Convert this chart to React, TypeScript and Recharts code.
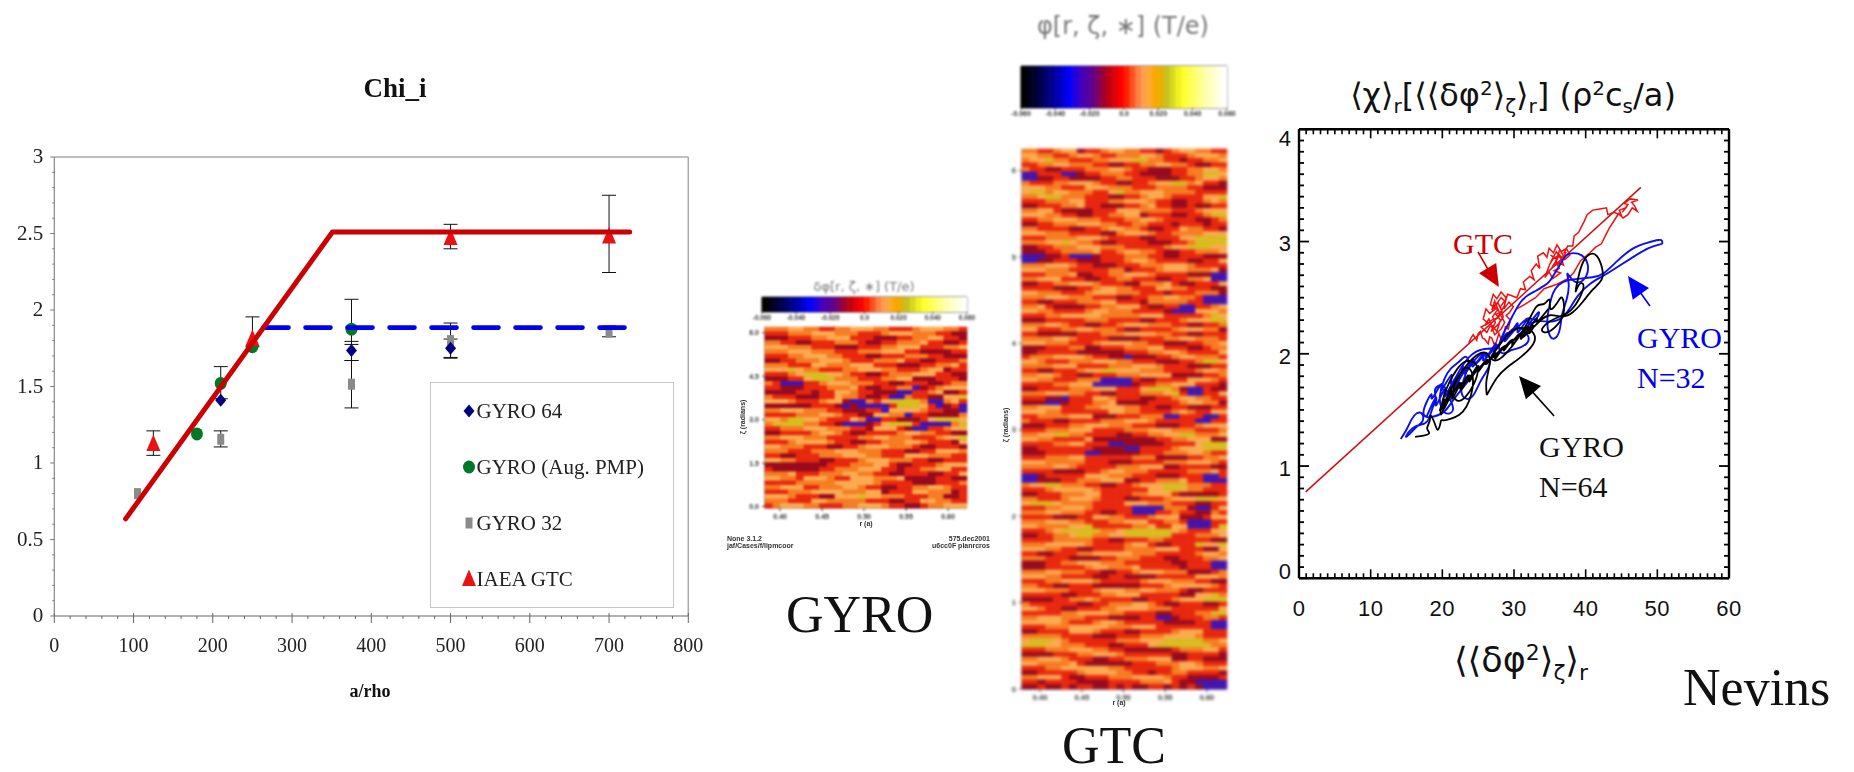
import React from 'react';
import { ComposedChart, ScatterChart, Scatter, Line, XAxis, YAxis, ErrorBar, ReferenceLine, Legend } from 'recharts';

// ---------- left panel: Chi_i ----------
const gyro64 = [
  { x: 210, y: 1.41 },
  { x: 375, y: 1.735, err: [0.065, 0.06] },
  { x: 500, y: 1.75, err: [0.065, 0.06] },
];
const gyroPmp = [
  { x: 180, y: 1.19 },
  { x: 210, y: 1.52, err: [0.1, 0.11] },
  { x: 250, y: 1.76 },
  { x: 375, y: 1.875, err: [0.1, 0.195] },
];
const gyro32 = [
  { x: 105, y: 0.8 },
  { x: 210, y: 1.155, err: [0.05, 0.055] },
  { x: 375, y: 1.515, err: [0.155, 0.155] },
  { x: 500, y: 1.8, err: [0.11, 0.115] },
  { x: 700, y: 1.855, err: [0.03, 0.04] },
];
const iaeaGtc = [
  { x: 125, y: 1.125, err: [0.075, 0.085] },
  { x: 250, y: 1.81, err: [0.05, 0.145] },
  { x: 500, y: 2.47, err: [0.07, 0.09] },
  { x: 700, y: 2.48, err: [0.235, 0.27] },
];
const redFit = [{ x: 90, y: 0.635 }, { x: 351, y: 2.51 }, { x: 726, y: 2.51 }];
const blueFit = [{ x: 264, y: 1.885 }, { x: 722, y: 1.885 }];
const legendOrder = ['GYRO 64', 'GYRO (Aug. PMP)', 'GYRO 32', 'IAEA GTC'];
const leftTicksX = [0, 20, 40, 60, 80, 100, 120, 140, 160, 180, 200, 220, 240, 260, 280, 300, 320, 340, 360, 380, 400, 420, 440, 460, 480, 500, 520, 540, 560, 580, 600, 620, 640, 660, 680, 700, 720, 740, 760, 780, 800];
const leftTicksY = Array.from({ length: 31 }, (_, i) => i / 10);

// ---------- right panel: transport vs intensity ----------
const redLine = [[0.93, 0.77], [47.7, 3.483]];
const gtcTrace = [
  [23.7,2.10],[24.0,2.14],[24.3,2.17],[24.8,2.12],[25.0,2.18],[25.3,2.20],[25.6,2.14],[25.9,2.13],[26.4,2.09],[26.6,2.15],[26.9,2.14],[27.2,2.09],[27.5,2.10],[27.9,2.18],[28.2,2.13],[28.5,2.15],[28.8,2.24],[29.2,2.22],[29.5,2.30],[28.9,2.34],[29.4,2.37],[29.9,2.42],[29.3,2.46],[28.6,2.40],[28.9,2.50],[28.2,2.55],[27.6,2.49],[27.1,2.53],[26.7,2.44],[27.4,2.40],[26.6,2.36],[26.1,2.40],[25.7,2.31],[26.4,2.27],[25.4,2.24],[26.2,2.19],[26.6,2.24],[27.0,2.25],[27.6,2.20],[28.1,2.30],[27.5,2.35],[28.3,2.38],[27.8,2.45],[27.2,2.43],[27.7,2.39],[27.0,2.33],[27.4,2.28],[26.8,2.20],[27.9,2.27],[28.5,2.33],[28.1,2.42],[28.7,2.47],[28.2,2.50],[27.5,2.44],[26.9,2.39],[27.3,2.47],[28.0,2.36],[28.7,2.28],[28.2,2.22],[27.3,2.17],[26.5,2.31],[25.9,2.25],[26.9,2.30],[27.7,2.32],[28.6,2.42],[29.1,2.53],[29.6,2.52],[30.4,2.50],[30.9,2.58],[31.6,2.57],[31.3,2.64],[32.2,2.69],[32.8,2.66],[32.4,2.74],[33.1,2.80],[33.6,2.76],[33.3,2.87],[34.1,2.90],[34.6,2.86],[34.9,2.94],[35.5,2.90],[36.0,2.97],[36.6,2.91],[37.3,2.94],[37.8,2.88],[37.1,2.84],[36.5,2.87],[36.9,2.79],[35.9,2.82],[36.3,2.76],[35.6,2.74],[36.5,2.72],[35.4,2.67],[34.9,2.73],[34.3,2.68],[35.0,2.80],[35.6,2.86],[35.1,2.88],[36.0,2.84],[35.4,2.78],[36.2,2.80],[36.9,2.87],[36.4,2.93],[35.7,2.80],[36.3,2.88],[35.3,2.84],[35.9,2.91],[36.7,2.83],[37.2,2.90],[37.0,2.90],[37.5,2.96],[38.2,2.96],[38.4,3.05],[39.0,3.08],[39.4,3.13],[39.8,3.18],[40.2,3.24],[41.0,3.28],[42.0,3.29],[42.9,3.30],[43.1,3.24],[44.0,3.26],[45.0,3.23],[44.7,3.28],[45.6,3.30],[45.1,3.26],[45.9,3.33],[45.4,3.34],[46.2,3.38],[47.3,3.37],[46.4,3.35],[46.8,3.32],[47.2,3.27],[46.5,3.30],[45.9,3.24],[45.2,3.21],[44.6,3.25],[44.0,3.19],[43.3,3.12],[42.9,3.07],[42.2,2.98],[41.4,2.95],[40.6,2.90],[39.3,2.83],[38.3,2.72],[37.5,2.67],[36.0,2.62],[34.2,2.58],[33.0,2.50],[31.5,2.44],[30.4,2.40],
];
const blueTrace = [
  [14.2,1.24],[14.2,1.24],[15.0,1.32],[15.7,1.42],[16.4,1.48],[17.3,1.48],[17.4,1.39],[16.5,1.36],[15.4,1.28],[14.6,1.24],[15.8,1.35],[17.0,1.37],[18.0,1.38],[18.6,1.52],[19.2,1.60],[18.8,1.68],[19.4,1.72],[20.3,1.73],[21.0,1.60],[21.8,1.50],[20.8,1.45],[19.8,1.50],[19.5,1.62],[20.2,1.78],[21.2,1.88],[22.3,1.92],[23.3,2.00],[23.9,1.92],[23.0,1.78],[22.4,1.65],[23.4,1.58],[24.4,1.62],[25.2,1.75],[26.2,1.84],[26.9,1.94],[26.3,2.02],[25.2,2.00],[24.2,1.92],[23.0,1.85],[22.0,1.72],[21.2,1.62],[20.6,1.55],[21.4,1.74],[22.6,1.88],[24.0,2.00],[25.6,2.05],[27.2,2.04],[28.2,2.10],[29.4,2.20],[30.4,2.26],[31.6,2.20],[32.4,2.12],[31.0,2.05],[29.6,2.04],[28.4,1.98],[27.6,2.06],[28.8,2.22],[30.0,2.36],[30.8,2.46],[32.0,2.53],[33.1,2.56],[34.0,2.60],[34.9,2.63],[35.7,2.72],[36.5,2.80],[37.3,2.89],[38.2,2.90],[39.5,2.89],[40.5,2.80],[40.2,2.68],[39.0,2.62],[38.0,2.66],[37.2,2.75],[37.8,2.62],[37.4,2.48],[36.6,2.35],[36.5,2.22],[35.9,2.13],[35.0,2.13],[34.5,2.28],[34.9,2.42],[35.4,2.55],[36.2,2.62],[37.4,2.66],[39.2,2.67],[41.0,2.68],[42.4,2.70],[44.4,2.83],[46.6,2.95],[48.6,2.99],[50.4,3.02],[50.7,3.01],[50.7,2.98],[50.7,2.98],[48.8,2.95],[46.8,2.87],[44.6,2.78],[42.4,2.69],[40.6,2.63],[38.8,2.52],[37.8,2.40],[36.6,2.30],[34.8,2.28],[33.4,2.30],[31.8,2.26],[30.2,2.12],[28.6,2.07],[26.8,1.95],[25.0,1.88],[23.2,1.72],[21.6,1.60],[20.4,1.48],[19.2,1.44],
  [16.5,1.42],[19,1.72],[18,1.52],[20.5,1.82],[19.2,1.58],[22,1.92],[20.5,1.62],[23.6,2.0],[22,1.72],[25,2.04],[23.5,1.8],[26.5,2.08],[25,1.86],[28,2.12],[26.5,1.94],[29.5,2.22],[28,2.04],[31,2.3],[30,2.12],[32.5,2.38],[31.5,2.2],[34,2.44],[33,2.26],[32,2.36],[30,2.18],[31,2.34],[28.6,2.08],[29.6,2.26],[27,1.98],[28,2.16],[25.6,1.9],[26.6,2.06],[24,1.84],[25,2.02],[22.6,1.74],[23.6,1.96],[21,1.6],[22.2,1.86],[19.8,1.52],[20.8,1.78],[18.6,1.44],[19.6,1.7],[17.8,1.44],
];
const blackTrace = [
  [16.2,1.26],[16.2,1.26],[17.4,1.27],[18.5,1.29],[17.6,1.33],[18.4,1.40],[18.2,1.48],[19.0,1.38],[19.3,1.30],[19.7,1.36],[19.8,1.42],[20.1,1.40],[21.2,1.42],[22.4,1.45],[23.4,1.52],[24.1,1.64],[24.4,1.76],[24.0,1.88],[23.0,1.88],[22.0,1.78],[20.8,1.64],[20.2,1.50],[19.6,1.42],[20.0,1.60],[21.0,1.76],[22.0,1.86],[23.0,1.94],[24.4,1.94],[25.2,1.86],[24.4,1.72],[23.2,1.60],[22.0,1.56],[21.2,1.66],[22.2,1.80],[23.6,1.92],[25.0,2.01],[26.4,2.02],[26.8,1.92],[26.0,1.76],[26.2,1.63],[26.2,1.63],[27.6,1.80],[29.0,1.88],[30.8,1.96],[32.4,2.05],[33.2,2.14],[32.4,2.22],[30.8,2.24],[29.4,2.20],[28.0,2.08],[26.4,1.96],[27.6,1.92],[29.2,2.02],[30.6,2.14],[32.0,2.28],[33.2,2.46],[34.2,2.42],[35.2,2.53],[34.8,2.36],[36.0,2.44],[36.8,2.55],[37.2,2.35],[36.0,2.25],[34.8,2.18],[33.4,2.20],[35.0,2.30],[36.8,2.34],[38.0,2.38],[39.2,2.49],[40.0,2.63],[39.0,2.64],[38.4,2.50],[39.0,2.70],[39.6,2.83],[40.6,2.90],[41.6,2.89],[42.4,2.76],[42.5,2.66],[41.0,2.58],[39.6,2.46],[38.2,2.36],[36.8,2.32],[35.0,2.36],[33.6,2.30],[32.0,2.18],[30.2,2.10],
  [33.6,2.32],[31.6,2.12],[32.8,2.3],[30.4,2.06],[31.6,2.26],[29.2,2.0],[30.4,2.2],[28,1.96],[29.2,2.14],[26.8,1.88],[28,2.08],[25.6,1.84],[26.8,2.02],[24.4,1.76],[25.6,1.98],[23.2,1.66],[24.4,1.9],[22,1.58],[23.2,1.84],[20.8,1.5],[22,1.76],[19.6,1.4],[20.8,1.68],[19.2,1.44],[20.4,1.56],[21.6,1.78],[20.8,1.54],[22.8,1.82],[22,1.62],[24,1.88],[23.2,1.7],[25.2,1.94],[24.4,1.8],[26.4,1.98],[25.6,1.86],[27.6,2.04],[26.8,1.92],[28.8,2.1],[28,2.0],[30,2.16],[29.2,2.06],[31.2,2.22],[30.4,2.12],[32.4,2.28],[31.6,2.18],[33.6,2.36],[32.8,2.24],[34.8,2.4],
];
const annotationShafts = [
  { color: '#cc0000', from: [24.98, 2.907], to: [27.2, 2.66] },
  { color: '#0000ff', from: [48.97, 2.426], to: [46.8, 2.62] },
  { color: '#000000', from: [35.6, 1.446], to: [31.6, 1.73] },
];
const arrowTips = [
  { x: 27.9, y: 2.595, angle: 59, color: '#cc0000' },
  { x: 45.9, y: 2.693, angle: 234, color: '#0000ff' },
  { x: 30.7, y: 1.802, angle: 229, color: '#000000' },
];
const rightTicksX = Array.from({ length: 61 }, (_, i) => i);
const rightTicksY = Array.from({ length: 41 }, (_, i) => i / 10);

// ---------- colour maps: l light, o orange, r red, d dark red, p purple, y olive yellow ----------
const cellColors: Record<string, string> = { l: '#fbaa50', o: '#f67c22', r: '#e8280e', d: '#980a1e', p: '#4214b0', y: '#d8bc20' };
const colorbarColors = ['#000000','#000018','#000030','#000050','#000070','#000090','#0000b0','#0000d8','#0000ff','#2000e0','#4000c0','#5000a8','#600090','#800060','#a00030','#c00010','#e00008','#ff0000','#ff2000','#ff5020','#ff8040','#ffa050','#ffa830','#f8a800','#e8b000','#c8c020','#d8d820','#f0f020','#ffff30','#ffff50','#ffff70','#ffff90','#ffffb0','#ffffc8','#ffffe0','#ffffff'];
const colorbarTicks = [-0.06, -0.04, -0.02, 0, 0.02, 0.04, 0.06];
const r_aTicks = [0.4, 0.45, 0.5, 0.55, 0.6];
const gtcZetaTicks = [0, 1, 2, 3, 4, 5, 6];
const gyroZetaTicks = [0, 1.5, 3, 4.5, 6];

const gyroRows = [
  'ooolloorroollloorrrollloor','rrrooolllooorrrolllooorrdd','dddrrroolllrrrdddrroollrrd','oorrddrrrooorddrrooolrrddr',
  'lllooorrrdddrrroolllrrrool','ooolllooorrrooolllrrddddrr','rrroollloorrrddrrrooorrddd','ddrrooolllorrrooolrrddrrro',
  'ooorrrllooolllrrrdddrroolr','lllyloorrroollloorrrolldrr','rrrolyyyllorrddrooolllrrdd','dddrrlyyyooorrroolldddrrrd',
  'orppprrolllooorrddrrrddroo','rrdddrrrooolrddrroopdrolll','ddddrrdrrllorrdddpprrolddr','orrrdddrrloorddrpporrddlly',
  'lllorrrolldpporlyyyyoppolr','ddddddrrrdpdppppryyylrpdrp','oolllooorrdddrrpllllorrddp','rrrrooollorrddllooprrddddo',
  'lloyyllorrrlopprrdddrlyyyl','oyyyyoorrdpppdrlyyyrppppoy','rrooolllooorrdlllrdpprrolly','ddrrrrollorddrrrrolloorrdd',
  'oolllooorrrroollooorrrolly','rrrollllorrddrrooollorrrdl','llooorrrddrrolllooorddrrrd','ooorrrooolllooorrrddrrlllo',
  'rrddrrrooollloorrrlllooorr','lloorrrddrrrolllooorrddrrr','ddddddddrrrooollrddrrrolll','rddddddrrooolllrrdrroollrr',
  'ooolrrrooolloorrddrrrddrrl','lloorlllorrlllooolddddrrdd','rrrrooooolllllorrrrdddrrro','oolllrrooollorrddrroollorr',
  'rrrooollllooolldrrrllooodr','lllorrrddlllyllooorrrooddr','ooorrrllooooorrrddrrlloorr','rollloorrroolllorrddroolll',
];

const gtcRows = [
  'oorrolldrrolloorrdrolloorr','lloorrollorrooollorrrolllo','ollyoorrroolllyyoorrdrrool','rroollooorrddrroolloorddrr',
  'orrddrrrooollorrdddrroollo','pprrrppdrrooorrddddrrooyyl','ppddrrddddrroorrrdddrrollo','orrroolllorrddrrollyyolrrd',
  'llloorrrlllooorrroooorrddd','lyyollooorrlyoollloooorrrr','oolyyooorrrddrrollorrrrlly','rrrooollrrroolllorrddrrolo',
  'ddrrroolrrdddrrolrrddrddrr','oollrddddrrrllloooorrrolll','llloorrddrroolldrrrddrroyy','rroolllooorrroollorrrrddro',
  'ddrrooollloorroorrrdrrrdrr','oorrrrddrrolloorddrrloorrd','lllooorrrrddolllorroooolll','rrroooolllorrrrddrrrllyyyy',
  'ooollyloorddrrrrdddrroyyyy','ddrrooolllooorrrrrollyyyll','dddrroooolrrolloorddrroool','pppddrpppdrrrooorrddrrrddd',
  'ppddrrrdddrrrollorrrrddrrl','ooolllorrdddrrrooolllorrrr','lllooorrrrroodrrrolllooold','rrrooolddrroolllorrrrdddpp',
  'oolllrrrddrroorrrddrroolpp','ddrroolllorrrddooolrddrrrl','rrrrdddrrolloorrrlloorrrdd','llooorrrolllooorrrdrrroood',
  'ooolllooorrrddrroolloorppp','rrddrrrooollrrrdooooorrppp','oolrddddrroolllrddrrpprrol','lloorrrrollooorrrrdppplllo',
  'rrroolllllooooolllrrrrroyl','dddrrrrrooorrrrddrrrolllyy','ooollorrddrrolllooorrddrro','llrrroollooorddrrrrolllood',
  'rrdddddrrrooolllloorrddrrr','oooollorrrrddddrrroollooor','lllooorrrolllloorrdddrrool','dddrrrooddrrrooollrrrddroo',
  'ddrrrrrddddddrrroollorrrrl','rooollllorrddpdddrrollooor','llorrrooollloorrrdddrroyyl','oooolllrrrrooolllorrrdddrr',
  'rrddrrrollyylllooorrrrollo','oollorrddrrrooollllddddrro','lloorrrooopppprddrrrrlllor','rrrroolllpppppdrroolllrrrd',
  'ddrrrrooolllrrrlyyyodpprdd','ooollloorrddrrrooolyrpprrl','rrrddprrrllorrrddrrolloorr','dddppdrrroolddddrrrrollood',
  'oolllrrroollloorrddrrdddrr','llloorrrrrrlloorrrrolorrll','rroooollldddrrrooopprrrppr','orrrddrrrrooolllorrrrrpprr',
  'dddrrroolllooorrrdddrrolll','rrrooolllrrrrooolllooorrro','oollyyoorrrrddrroollyyoool','lloorrrrlddddddddrroollldd',
  'rrrroollrrrppdddddrrrrlyyy','ddrrrrrrrddddpprrrrolllyyy','dddrrrrrppdddddrrrooollorr','rrrooollrrrrrroooddddrrool',
  'lllooooorrrdddrrrrooolllor','oooollorrrrrooolllddrrrrdd','rrrrddddrrollooorrrrrooolr','ppdrrrrrlllooorrrdddrrrppr',
  'ppdddrrooolllddrrooolrrppp','ollyyooorrddrrolllyyyooorr','rrrolllllorrrrrrllyyloorrr','ddrrrooollrrrroolllrdddddr',
  'oorrrolllorrrddrrrolllyyyl','lyyyloooorrrrlllooorrrddrr','rrroolllorrrrrppppooodpprl','ooollooorrddrrppprrorrddor',
  'rrrrdddrrlloorrrollldddrll','ooollloorrroolllrroorppprr','lloooollyrrrrroolrrllpppry','rrrolyyyyyoolyyyyyylorrrll',
  'ddrroolyyoollyyyyyyrrroool','rrrrooooorrddrrroorrrrrrdd','ooolllllorrrrollrddrrrylly','llloorrddrrrroooolllrrrddl',
  'rrddrrroolllllooorrrrroll','ooorrrddddrrooorrrddrrrool','dddrroolllooorrrrrrddrrrpp','dddrrrrrollooolrrrrrdrrrpp',
  'ooollooorrddrrolllooodddro','llloorrrrddrrddddrrrrrlllo','rrroollllorrrrrolllooorrdd','oorrddrrrddddddrrrolllllor',
  'lllooorrrollloollooorddrrr','rrrrrddrrroolllrrrrrddllyo','ddddrroolorrrrddrrrolllyyy','orrrrrrddrrooollorddrrrddr',
  'llorrddrrroollllooorrrrrrl','rrrrroolllloorrrrddrrrooyy','oolllooorrrddddrrppdrrroor','lllllorrrollorrrrrddddrrpp',
  'rrrooolllllooolllrrrrrrrpp','ddrrrrlllorrrddrrrrolllrrr','ooooorrrrdddrrrooollllorrr','lyyylorrrrrrooolllyyyyyool',
  'yyyllooorrrddrrrlyyyyyyyoo','rrrooollloorrddddddrooollr','ddddrrroolllorrrrrrddrrrrd','oolllorrrddrrooolllddrrddd',
  'lloooolrddddddrrrooollorrr','rrroolllllloorrrrrrolllool','ddrrrrrolllloorrdrroorrrrd','oolllrddrrrooollllorrddddr',
  'rrdrrrrddddrrrrooolrddpppp','ddrddrdrrddrdrddrrdrdrdppp',
];

// ---------- helpers ----------
const SERIF = '"Liberation Serif", serif';
const SANS = '"Liberation Sans", sans-serif';

const markers: Record<string, (cx: number, cy: number) => React.ReactElement> = {
  diamond: (cx, cy) => <polygon points={`${cx},${cy - 6.5} ${cx + 5.5},${cy} ${cx},${cy + 6.5} ${cx - 5.5},${cy}`} fill="#000080" />,
  circle: (cx, cy) => <ellipse cx={cx} cy={cy} rx={6} ry={6.5} fill="#007828" />,
  square: (cx, cy) => <rect x={cx - 3.5} y={cy - 5.5} width={7} height={11} fill="#8a8a8a" />,
  triangle: (cx, cy) => <polygon points={`${cx},${cy - 9.5} ${cx + 7},${cy + 7} ${cx - 7},${cy + 7}`} fill="#e81212" />,
};
const legendMarker: Record<string, string> = { 'GYRO 64': 'diamond', 'GYRO (Aug. PMP)': 'circle', 'GYRO 32': 'square', 'IAEA GTC': 'triangle' };
const mark = (kind: string) => (p: any) => markers[kind](p.cx, p.cy);

function LeftLegend({ payload }: any) {
  const names = (payload || []).map((e: any) => e.value);
  const items = legendOrder.filter((n) => names.includes(n));
  return (
    <div style={{ position: 'relative', width: 244, height: 226, border: '1.5px solid #c8c8c8', boxSizing: 'border-box', background: '#fff' }}>
      {items.map((name: string, i: number) => {
        const top = 28 + i * 56.2;
        return (
          <React.Fragment key={name}>
            <svg style={{ position: 'absolute', left: 27, top: top - 11 }} width={22} height={22}>
              {markers[legendMarker[name]](11, 11)}
            </svg>
            <div style={{ position: 'absolute', left: 46, top: top - 13, font: `21px ${SERIF}`, lineHeight: '26px', color: '#222', whiteSpace: 'nowrap' }}>{name}</div>
          </React.Fragment>
        );
      })}
    </div>
  );
}

function LeftXTick({ x, y, payload }: any) {
  const v = payload.value;
  const major = v % 100 === 0;
  return (
    <g>
      <line x1={x} x2={x} y1={major ? y - 3 : y} y2={major ? y + 7 : y + 3} stroke="#666" strokeWidth={1} />
      {major && <text x={x} y={y + 36} textAnchor="middle" fontFamily={SERIF} fontSize={20} fill="#222">{v}</text>}
    </g>
  );
}
function LeftYTick({ x, y, payload }: any) {
  const v = payload.value;
  const major = Math.round(v * 10) % 5 === 0;
  return (
    <g>
      <line x1={major ? x - 4 : x - 2} x2={x} y1={y} y2={y} stroke="#777" strokeWidth={1} />
      {major && <text x={x - 11} y={y + 6} textAnchor="end" fontFamily={SERIF} fontSize={21} fill="#222">{v}</text>}
    </g>
  );
}
const noMark = () => null;

function LeftChart() {
  return (
    <div style={{ position: 'absolute', left: 0, top: 0, filter: 'blur(0.5px)' }}>
      <ComposedChart width={720} height={720} margin={{ top: 157, right: 31.7, left: 0, bottom: 0 }}>
        <XAxis type="number" dataKey="x" domain={[0, 800]} ticks={leftTicksX} interval={0} height={104} tickSize={0} tickMargin={0} tick={LeftXTick} tickLine={false} axisLine={{ stroke: '#666', strokeWidth: 1.2 }} />
        <YAxis type="number" dataKey="y" domain={[0, 3]} ticks={leftTicksY} interval={0} width={54.3} tickSize={0} tickMargin={0} tick={LeftYTick} tickLine={false} axisLine={{ stroke: '#888', strokeWidth: 1.2 }} />
        <ReferenceLine y={3} stroke="#aaa" strokeWidth={1.5} />
        <ReferenceLine x={800} stroke="#aaa" strokeWidth={1.5} />
        <Legend layout="horizontal" verticalAlign="middle" content={LeftLegend} wrapperStyle={{ left: 429.5, top: 381.5, width: 244, height: 226, right: 'auto', bottom: 'auto', margin: 0 }} />
        <Scatter name="GYRO 32" data={gyro32} shape={mark('square')} isAnimationActive={false}>
          <ErrorBar dataKey="err" direction="y" width={7} stroke="#111" strokeWidth={1} isAnimationActive={false} />
        </Scatter>
        <Scatter name="GYRO 64" data={gyro64} shape={mark('diamond')} isAnimationActive={false}>
          <ErrorBar dataKey="err" direction="y" width={7} stroke="#111" strokeWidth={1} isAnimationActive={false} />
        </Scatter>
        <Scatter name="GYRO (Aug. PMP)" data={gyroPmp} shape={mark('circle')} isAnimationActive={false}>
          <ErrorBar dataKey="err" direction="y" width={7} stroke="#111" strokeWidth={1} isAnimationActive={false} />
        </Scatter>
        <Scatter name="IAEA GTC" data={iaeaGtc} shape={mark('triangle')} isAnimationActive={false}>
          <ErrorBar dataKey="err" direction="y" width={7} stroke="#111" strokeWidth={1} isAnimationActive={false} />
        </Scatter>
        <Scatter data={blueFit} legendType="none" shape={noMark} line={{ stroke: '#0000ee', strokeWidth: 4.6, strokeLinecap: 'round', strokeDasharray: '25 17' }} isAnimationActive={false} />
        <Scatter data={redFit} legendType="none" shape={noMark} line={{ stroke: '#cc0000', strokeWidth: 5, strokeLinecap: 'round', strokeLinejoin: 'round' }} isAnimationActive={false} />
      </ComposedChart>
    </div>
  );
}

const RIGHT_W = 430;
const RIGHT_H = 449;
const rightYLabelShift: Record<number, number> = { 0: -7, 1: 2, 2: 2, 3: 1, 4: 9 };

function RightXTick({ x, y, payload }: any) {
  const v = payload.value;
  const major = v % 10 === 0;
  const len = major ? 9 : 5;
  return (
    <g>
      <line x1={x} x2={x} y1={y} y2={y - len} stroke="#000" strokeWidth={1.6} />
      <line x1={x} x2={x} y1={y - RIGHT_H} y2={y - RIGHT_H + len} stroke="#000" strokeWidth={1.6} />
      {major && <text x={x} y={y + 38} textAnchor="middle" fontFamily={SANS} fontSize={22} letterSpacing={0.5} fill="#111">{v}</text>}
    </g>
  );
}
function RightYTick({ x, y, payload }: any) {
  const v = payload.value;
  const major = Number.isInteger(v);
  const len = major ? 10 : 5;
  return (
    <g>
      <line x1={x} x2={x + len} y1={y} y2={y} stroke="#000" strokeWidth={1.8} />
      <line x1={x + RIGHT_W} x2={x + RIGHT_W - len} y1={y} y2={y} stroke="#000" strokeWidth={1.8} />
      {major && <text x={x - 8} y={y + 8 + rightYLabelShift[v]} textAnchor="end" fontFamily={SANS} fontSize={22} fill="#111">{v}</text>}
    </g>
  );
}
const toPts = (list: number[][]) => list.map(([x, y]) => ({ x, y }));
const ArrowHead = (p: any) => (
  <polygon points="0,0 -22,-10 -22,10" fill={p.payload.color} transform={`translate(${p.cx},${p.cy}) rotate(${p.payload.angle})`} />
);

function RightChart() {
  return (
    <div style={{ position: 'absolute', left: 1250, top: 100 }}>
      <ComposedChart width={520} height={530} margin={{ top: 29.3, right: 41, left: 0, bottom: 0 }}>
        <XAxis type="number" dataKey="x" domain={[0, 60]} ticks={rightTicksX} interval={0} height={51.7} tickSize={0} tickMargin={0} tick={RightXTick} tickLine={false} axisLine={{ stroke: '#000', strokeWidth: 2.4 }} />
        <YAxis type="number" dataKey="y" domain={[0, 4]} ticks={rightTicksY} interval={0} width={49} tickSize={0} tickMargin={0} tick={RightYTick} tickLine={false} axisLine={{ stroke: '#000', strokeWidth: 2.4 }} />
        <ReferenceLine y={4} stroke="#000" strokeWidth={2.4} />
        <ReferenceLine x={60} stroke="#000" strokeWidth={2.4} />
        <Line data={toPts(redLine)} dataKey="y" dot={false} stroke="#cc1010" strokeWidth={1.5} isAnimationActive={false} />
        <Line data={toPts(gtcTrace)} dataKey="y" dot={false} stroke="#f01010" strokeWidth={1.5} isAnimationActive={false} />
        <Line data={toPts(blueTrace)} type="basis" dataKey="y" dot={false} stroke="#0a10e8" strokeWidth={1.9} isAnimationActive={false} />
        <Line data={toPts(blackTrace)} type="basis" dataKey="y" dot={false} stroke="#000" strokeWidth={1.8} isAnimationActive={false} />
        {annotationShafts.map((a, i) => (
          <Line key={i} data={toPts([a.from, a.to])} dataKey="y" dot={false} stroke={a.color} strokeWidth={1.6} isAnimationActive={false} />
        ))}
        <Scatter data={arrowTips} shape={ArrowHead} isAnimationActive={false} />
      </ComposedChart>
    </div>
  );
}

const Cell = (w: number, h: number) => (p: any) => (
  <rect x={p.cx - w / 2 - 0.3} y={p.cy - h / 2 - 0.3} width={w + 0.6} height={h + 0.6} fill={p.payload.c} />
);

function HeatPanel({ box, rows, xDomain, yDomain, xTicks, yTicks, yFmt, fontSize, blur }: any) {
  const [x0, y0, x1, y1] = box;
  const M = 30;
  const cols = rows[0].length;
  const n = rows.length;
  const data: any[] = [];
  rows.forEach((row: string, j: number) => {
    for (let i = 0; i < cols; i++) {
      data.push({
        x: xDomain[0] + ((i + 0.5) / cols) * (xDomain[1] - xDomain[0]),
        y: yDomain[1] - ((j + 0.5) / n) * (yDomain[1] - yDomain[0]),
        c: cellColors[row[i] || 'o'],
      });
    }
  });
  const tick = { fontSize, fontFamily: SANS, fontWeight: 700, fill: '#333' };
  return (
    <div style={{ position: 'absolute', left: x0 - M, top: y0 - M, filter: `blur(${blur}px)` }}>
      <ScatterChart width={x1 - x0 + 2 * M} height={y1 - y0 + 2 * M} margin={{ top: M, right: M, left: 0, bottom: 0 }}>
        <XAxis type="number" dataKey="x" domain={xDomain} ticks={xTicks} interval={0} height={M} tickSize={3} tickMargin={3} tick={tick} tickFormatter={(v: number) => v.toFixed(2)} stroke="#333" />
        <YAxis type="number" dataKey="y" domain={yDomain} ticks={yTicks} interval={0} width={M} tickSize={3} tickMargin={3} tick={tick} tickFormatter={yFmt} stroke="#333" />
        <Scatter data={data} shape={Cell((x1 - x0) / cols, (y1 - y0) / n)} isAnimationActive={false} />
      </ScatterChart>
    </div>
  );
}

function ColorBar({ box, fontSize, blur }: any) {
  const [x0, y0, x1, y1] = box;
  const M = 24;
  const n = colorbarColors.length;
  const data = colorbarColors.map((c, i) => ({ x: -0.06 + ((i + 0.5) / n) * 0.12, y: 0.5, c }));
  const w = (x1 - x0) / n;
  const tick = { fontSize, fontFamily: SANS, fontWeight: 700, fill: '#333' };
  return (
    <div style={{ position: 'absolute', left: x0 - M, top: y0 - 4, filter: `blur(${blur}px)` }}>
      <ScatterChart width={x1 - x0 + 2 * M} height={y1 - y0 + 4 + M} margin={{ top: 4, right: M, left: 0, bottom: 0 }}>
        <XAxis type="number" dataKey="x" domain={[-0.06, 0.06]} ticks={colorbarTicks} interval={0} height={M} tickSize={2} tickMargin={1} tick={tick} tickFormatter={(v: number) => (v === 0 ? '0.0' : v.toFixed(3))} stroke="#444" />
        <YAxis type="number" dataKey="y" domain={[0, 1]} ticks={[]} width={M} stroke="#444" />
        <ReferenceLine y={1} stroke="#444" />
        <ReferenceLine x={0.06} stroke="#444" />
        <Scatter data={data} shape={(p: any) => <rect x={p.cx - w / 2 - 0.3} y={4} width={w + 0.6} height={y1 - y0} fill={p.payload.c} />} isAnimationActive={false} />
        <ReferenceLine segment={[{ x: 0, y: 0 }, { x: 0, y: 0.42 }]} stroke="#000" strokeWidth={3} />
      </ScatterChart>
    </div>
  );
}

function Overlay() {
  const s1 = { fontSize: 20 } as const;
  const s2 = { fontSize: 22 } as const;
  return (
    <svg width={1854} height={772} style={{ position: 'absolute', left: 0, top: 0, pointerEvents: 'none' }}>
      <g fontFamily={SERIF} style={{ filter: 'blur(0.5px)' }} fill="#111">
        <text x={395} y={97} textAnchor="middle" fontSize={27} fontWeight={700}>Chi_i</text>
        <text x={370} y={697} textAnchor="middle" fontSize={18} fontWeight={700}>a/rho</text>
      </g>
      <g fontFamily={SERIF} fill="#111" fontSize={52}>
        <text x={786} y={632}>GYRO</text>
        <text x={1062} y={763}>GTC</text>
        <text x={1683} y={705}>Nevins</text>
      </g>
      <g fontFamily="DejaVu Sans, sans-serif" fill="#777" style={{ filter: 'blur(0.8px)' }}>
        <text x={1123} y={34} textAnchor="middle" fontSize={24}>φ[r, ζ, ∗]  (T/e)</text>
        <text x={864} y={291} textAnchor="middle" fontSize={13}>δφ[r, ζ, ∗]  (T/e)</text>
      </g>
      <g fontFamily={SANS} fill="#333" fontWeight={700} fontSize={7} style={{ filter: 'blur(0.7px)' }}>
        <text x={727} y={541}>None 3.1.2</text>
        <text x={727} y={548}>jaf/Cases/f/lipmcoor</text>
        <text x={990} y={541} textAnchor="end">575.dec2001</text>
        <text x={990} y={548} textAnchor="end">u6cc0F planrcros</text>
        <text x={866} y={526} textAnchor="middle">r (a)</text>
        <text x={1119} y={705} textAnchor="middle">r (a)</text>
        <text transform="translate(745,417) rotate(-90)" textAnchor="middle">ζ (radians)</text>
        <text transform="translate(1008,425) rotate(-90)" textAnchor="middle">ζ (radians)</text>
      </g>
      <text x={1513} y={106} textAnchor="middle" fontFamily="DejaVu Sans, sans-serif" fontSize={32} fill="#111">
        ⟨χ⟩<tspan dy={7} {...s1}>r</tspan><tspan dy={-7}>[⟨⟨δφ</tspan><tspan dy={-11} {...s1}>2</tspan><tspan dy={11}>⟩</tspan><tspan dy={7} {...s1}>ζ</tspan><tspan dy={-7}>⟩</tspan><tspan dy={7} {...s1}>r</tspan><tspan dy={-7}>] (ρ</tspan><tspan dy={-11} {...s1}>2</tspan><tspan dy={11}>c</tspan><tspan dy={7} {...s1}>s</tspan><tspan dy={-7}>/a)</tspan>
      </text>
      <text x={1521} y={672} textAnchor="middle" fontFamily="DejaVu Sans, sans-serif" fontSize={35} fill="#111">
        ⟨⟨δφ<tspan dy={-12} {...s2}>2</tspan><tspan dy={12}>⟩</tspan><tspan dy={8} {...s2}>ζ</tspan><tspan dy={-8}>⟩</tspan><tspan dy={8} {...s2}>r</tspan>
      </text>
      <g fontFamily={SERIF} fontSize={30}>
        <text x={1453} y={254} fill="#cc0000">GTC</text>
        <text x={1637} y={348} fill="#0000ee">GYRO</text>
        <text x={1637} y={388} fill="#0000ee">N=32</text>
        <text x={1539} y={457} fill="#111">GYRO</text>
        <text x={1539} y={497} fill="#111">N=64</text>
      </g>
    </svg>
  );
}

export default function App() {
  return (
    <div style={{ position: 'absolute', left: 0, top: 0, width: 1854, height: 772, overflow: 'hidden', background: '#fff' }}>
      <LeftChart />
      <ColorBar box={[762, 297, 967, 312]} fontSize={6.5} blur={1} />
      <HeatPanel box={[765, 327, 967, 508]} rows={gyroRows} xDomain={[0.382, 0.6225]} yDomain={[-0.05, 6.2]} xTicks={r_aTicks} yTicks={gyroZetaTicks} yFmt={(v: number) => v.toFixed(1)} fontSize={7} blur={1.3} />
      <ColorBar box={[1021, 66, 1227, 108]} fontSize={7} blur={1} />
      <HeatPanel box={[1022, 149, 1227, 689]} rows={gtcRows} xDomain={[0.3784, 0.624]} yDomain={[0, 6.25]} xTicks={r_aTicks} yTicks={gtcZetaTicks} yFmt={(v: number) => String(v)} fontSize={7.5} blur={1.5} />
      <RightChart />
      <Overlay />
    </div>
  );
}
